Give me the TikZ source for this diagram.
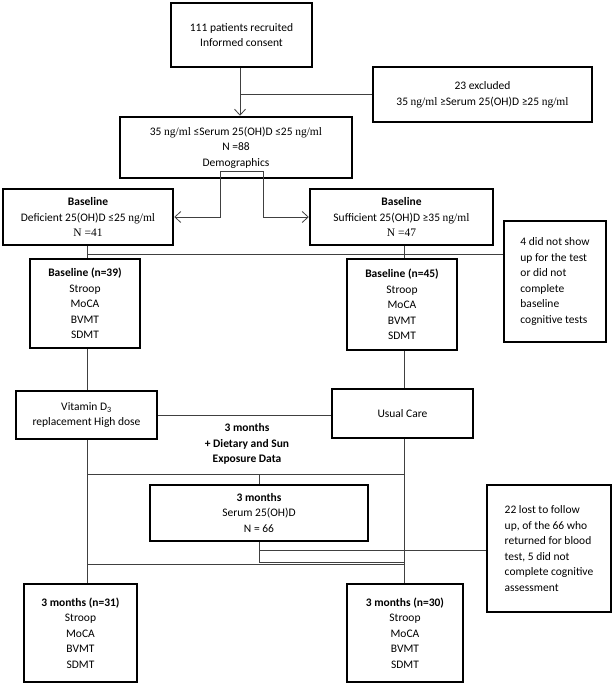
\documentclass[tikz,border=0pt]{standalone}
\usepackage{fontspec}
\setmainfont{Carlito}
\newfontfamily\tnr{Liberation Serif}
\usetikzlibrary{arrows.meta}

\newcommand{\ngml}{{\tnr ng/ml}}

\begin{document}
\begin{tikzpicture}[x=1pt, y=-1pt, every node/.style={font=\fontsize{11.5}{15.5}\selectfont},
  >={Straight Barb[length=6pt,width=11pt]},
  box/.style={draw, line width=2.5pt, align=center, inner sep=0pt},
  link/.style={line width=0.8pt, black!75}]
	\useasboundingbox (0,0) rectangle (614,685);
	% columns of the two arms
	\coordinate (colL) at (87,0); \coordinate (colR) at (404,0);
	% screening
	\node[box, minimum width=141, minimum height=64] (recruit) at (241.5,35) {111 patients recruited\\Informed consent};
	\node[box, minimum width=219, minimum height=55] (excl) at (482.5,94.5) {23 excluded\\35 \ngml{} ≥Serum 25(OH)D ≥25 \ngml};
	\node[box, minimum width=232, minimum height=61] (serum) at (236,147.5) {35 \ngml{} ≤Serum 25(OH)D ≤25 \ngml\\N =88\\Demographics};
	\node[box, minimum width=170, minimum height=56] (defic) at (88,217) {\textbf{Baseline}\\Deficient 25(OH)D ≤25 \ngml\\{\tnr N =41}};
	\node[box, minimum width=183, minimum height=56] (suff) at (401.5,217) {\textbf{Baseline}\\Sufficient 25(OH)D ≥35 \ngml\\{\tnr N =47}};
	\node[box, minimum width=102, minimum height=121, align=left] (noshow) at (555,281.5) {4 did not show\\up for the test\\or did not\\complete\\baseline\\cognitive tests};
	% baseline tests
	\node[box, minimum width=110, minimum height=89] (base39) at (85,303.5) {\textbf{Baseline (n=39)}\\Stroop\\MoCA\\BVMT\\SDMT};
	\node[box, minimum width=110, minimum height=91] (base45) at (402,304.5) {\textbf{Baseline (n=45)}\\Stroop\\MoCA\\BVMT\\SDMT};
	% intervention
	\node[box, minimum width=141, minimum height=48] (vitd) at (86.5,415) {Vitamin D\textsubscript{3}\\replacement High dose};
	\node[box, minimum width=141, minimum height=49] (usual) at (402.5,413.5) {Usual Care};
	\node[align=center, font=\fontsize{11.5}{15.5}\selectfont\bfseries] (period) at (247,444) {3 months\\+ Dietary and Sun\\Exposure Data};
	% follow up
	\node[box, minimum width=218, minimum height=56] (serum3) at (259,513) {\textbf{3 months}\\Serum 25(OH)D\\N = 66};
	\node[box, minimum width=124, minimum height=127, align=left] (lost) at (549,548.5) {22 lost to follow\\up, of the 66 who\\returned for blood\\test, 5 did not\\complete cognitive\\assessment};
	\node[box, minimum width=113, minimum height=98] (m31) at (80.5,633) {\textbf{3 months (n=31)}\\Stroop\\MoCA\\BVMT\\SDMT};
	\node[box, minimum width=116, minimum height=98] (m30) at (405,633) {\textbf{3 months (n=30)}\\Stroop\\MoCA\\BVMT\\SDMT};

	% connectors
	\draw[link, ->] (recruit.south -| 240,0) -- (serum.north -| 240,0);
	\draw[link] (excl.west) -- (excl.west -| 240,0);
	\coordinate (brL) at (220,171); \coordinate (brR) at (263,171);
	\draw[link] (brL) -- (brR);
	\draw[link, ->] (brL) |- (defic.east);
	\draw[link, ->] (brR) |- (suff.west);
	\draw[link] (defic.south -| colL) -- (base39.north -| colL);
	\draw[link] (suff.south -| colR) -- (base45.north -| colR);
	\coordinate (split1) at (87,254);
	\draw[link] (split1) -- (split1 -| noshow.west);
	\draw[link] (base39.south -| colL) -- (vitd.north -| colL);
	\draw[link] (base45.south -| colR) -- (usual.north -| colR);
	\draw[link] (vitd.east) -- (vitd.east -| usual.west);
	\draw[link] (vitd.south -| colL) -- (m31.north -| colL);
	\draw[link] (usual.south -| colR) -- (m30.north -| colR);
	\coordinate (split2) at (87,474);
	\draw[link] (split2) -- (split2 -| colR);
	\draw[link] (split2 -| serum3.north) -- (serum3.north);
	\coordinate (stub) at (259,562);
	\draw[link] (serum3.south) -- (stub) -- (stub -| colR);
	\coordinate (lostline) at (259,550);
	\draw[link] (lostline) -- (lostline -| lost.west);
	\coordinate (split3) at (87,564);
	\draw[link] (split3) -- (split3 -| colR);
\end{tikzpicture}
\end{document}
